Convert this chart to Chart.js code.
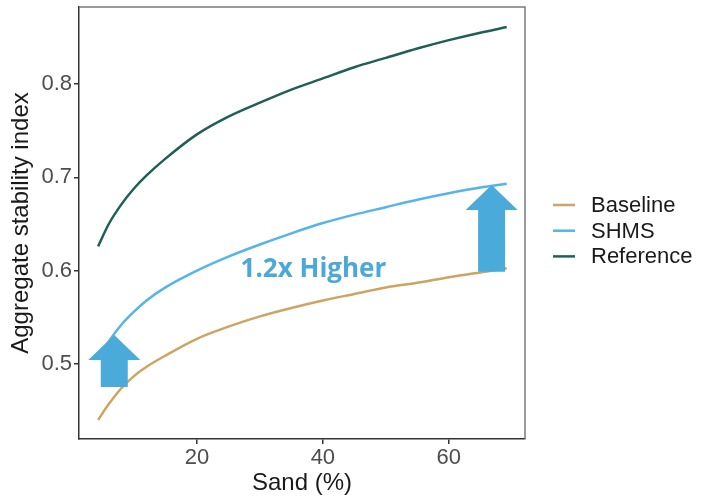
<!DOCTYPE html>
<html>
<head>
<meta charset="utf-8">
<script src="https://cdn.jsdelivr.net/npm/chart.js@4.4.1/dist/chart.umd.min.js"></script>
<style>
html, body { margin: 0; padding: 0; background: #fff; }
</style>
</head>
<body>
<canvas id="chart" width="701" height="498"></canvas>
<script>
// values
var sand      = [4.3, 6, 8, 10, 12, 15, 20, 25, 30, 35, 40, 45, 50, 55, 60, 65, 69.2];
var baseline  = [0.440, 0.457, 0.474, 0.487, 0.497, 0.509, 0.527, 0.540, 0.551, 0.560, 0.568, 0.575, 0.582, 0.587, 0.593, 0.598, 0.6025];
var shms      = [0.505, 0.524, 0.542, 0.556, 0.568, 0.582, 0.600, 0.615, 0.628, 0.640, 0.651, 0.660, 0.668, 0.676, 0.683, 0.689, 0.693];
var reference = [0.626, 0.650, 0.671, 0.688, 0.702, 0.720, 0.746, 0.765, 0.780, 0.794, 0.806, 0.818, 0.828, 0.838, 0.847, 0.855, 0.861];

var seriesNames  = ['Baseline', 'SHMS', 'Reference'];
var seriesColors = ['#CDA463', '#56B4E9', '#1F5F55'];

var xTicks = [20, 40, 60];
var yTicks = [0.5, 0.6, 0.7, 0.8];

// up arrows: x, tip y, bottom y (data units)
var arrows = [
    {x: 6.87, tip: 0.531, bottom: 0.4752},
    {x: 66.8, tip: 0.6917, bottom: 0.5988}
];
var note = {x: 38.5, y: 0.6015, text: '1.2x Higher'};

function pts(ys) {
    return ys.map(function(v, i) { return {x: sand[i], y: v}; });
}

var frame = {
    id: 'frame',
    afterDraw: function(chart) {
        var ctx = chart.ctx, a = chart.chartArea;
        ctx.save();
        ctx.strokeStyle = '#7a7a7a';
        ctx.lineWidth = 1.5;
        ctx.beginPath();
        ctx.moveTo(a.left, a.top);
        ctx.lineTo(a.right, a.top);
        ctx.lineTo(a.right, a.bottom);
        ctx.stroke();
        ctx.restore();
    }
};

var extras = {
    id: 'extras',
    afterDatasetsDraw: function(chart) {
        var ctx = chart.ctx;
        var xs = chart.scales.x, ys = chart.scales.y;
        ctx.save();
        ctx.fillStyle = '#4AABDB';
        arrows.forEach(function(ar) {
            var cx = xs.getPixelForValue(ar.x);
            var ty = ys.getPixelForValue(ar.tip);
            var by = ys.getPixelForValue(ar.bottom);
            var headH = 25, headW = 52, shaftW = 27;
            ctx.beginPath();
            ctx.moveTo(cx, ty);
            ctx.lineTo(cx + headW / 2, ty + headH);
            ctx.lineTo(cx + shaftW / 2, ty + headH);
            ctx.lineTo(cx + shaftW / 2, by);
            ctx.lineTo(cx - shaftW / 2, by);
            ctx.lineTo(cx - shaftW / 2, ty + headH);
            ctx.lineTo(cx - headW / 2, ty + headH);
            ctx.closePath();
            ctx.fill();
        });
        ctx.fillStyle = '#4AA8DA';
        ctx.font = 'bold 26px "Open Sans"';
        ctx.textAlign = 'center';
        ctx.textBaseline = 'middle';
        ctx.fillText(note.text, xs.getPixelForValue(note.x), ys.getPixelForValue(note.y));
        ctx.restore();
    },
    afterDraw: function(chart) {
        var ctx = chart.ctx, a = chart.chartArea;
        ctx.save();
        ctx.font = '22px "Liberation Sans", Arial, sans-serif';
        ctx.textBaseline = 'middle';
        ctx.textAlign = 'left';
        chart.data.datasets.forEach(function(ds, i) {
            var y = 205 + i * 25.7;
            ctx.strokeStyle = ds.borderColor;
            ctx.lineWidth = 2.5;
            ctx.beginPath();
            ctx.moveTo(a.right + 28, y);
            ctx.lineTo(a.right + 50, y);
            ctx.stroke();
            ctx.fillStyle = '#1a1a1a';
            ctx.fillText(ds.label, a.right + 66, y + 1);
        });
        ctx.restore();
    }
};

var ctx = document.getElementById('chart').getContext('2d');
var myChart = new Chart(ctx, {
    type: 'line',
    data: {
        datasets: [
            {label: seriesNames[0], data: pts(baseline),  borderColor: seriesColors[0]},
            {label: seriesNames[1], data: pts(shms),      borderColor: seriesColors[1]},
            {label: seriesNames[2], data: pts(reference), borderColor: seriesColors[2]}
        ]
    },
    options: {
        responsive: false,
        animation: false,
        layout: {padding: {top: 7, right: 176, left: 0, bottom: 0}},
        elements: {
            point: {radius: 0},
            line: {borderWidth: 2.5, cubicInterpolationMode: 'monotone', fill: false}
        },
        plugins: {legend: {display: false}, tooltip: {enabled: false}},
        scales: {
            x: {
                type: 'linear',
                min: 1.27,
                max: 72.1,
                afterBuildTicks: function(axis) {
                    axis.ticks = xTicks.map(function(v) { return {value: v}; });
                },
                afterFit: function(scale) {
                    scale.height = 59;
                    scale.paddingLeft = 0;
                    scale.paddingRight = 0;
                },
                ticks: {
                    color: '#4d4d4d',
                    font: {family: '"Liberation Sans", Arial', size: 22},
                    padding: 1,
                    maxRotation: 0
                },
                grid: {drawOnChartArea: false, tickLength: 5, color: '#333', lineWidth: 1.5},
                border: {color: '#333', width: 1.5},
                title: {
                    display: true, text: 'Sand (%)', color: '#1a1a1a',
                    font: {family: '"Liberation Sans", Arial', size: 24},
                    padding: {top: 0, bottom: 0}
                }
            },
            y: {
                min: 0.4196,
                max: 0.8825,
                afterBuildTicks: function(axis) {
                    axis.ticks = yTicks.map(function(v) { return {value: v}; });
                },
                afterFit: function(scale) {
                    scale.width = 79;
                    scale.paddingTop = 0;
                    scale.paddingBottom = 0;
                },
                ticks: {
                    color: '#4d4d4d',
                    font: {family: '"Liberation Sans", Arial', size: 22},
                    padding: 2,
                    callback: function(v) { return v.toFixed(1); }
                },
                grid: {drawOnChartArea: false, tickLength: 5, color: '#333', lineWidth: 1.5},
                border: {color: '#333', width: 1.5},
                title: {
                    display: true, text: 'Aggregate stability index', color: '#1a1a1a',
                    font: {family: '"Liberation Sans", Arial', size: 24},
                    padding: {top: 7, bottom: 0}
                }
            }
        }
    },
    plugins: [frame, extras]
});
</script>
</body>
</html>
